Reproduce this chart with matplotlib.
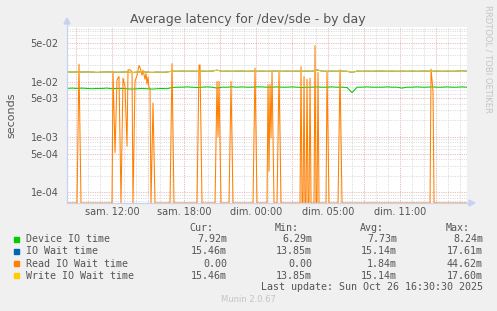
import numpy as np
import matplotlib
matplotlib.use("Agg")
import matplotlib.pyplot as plt
from matplotlib.ticker import FixedLocator, NullFormatter
from matplotlib.lines import Line2D
from matplotlib.patches import Rectangle, Polygon

# ---------------- data ----------------
title = "Average latency for /dev/sde - by day"
ylabel = "seconds"
span_hours = 33.33                      # width of the time window
xtick_hours = [3.78, 9.78, 15.78, 21.78, 27.78]
xtick_labels = ["sam. 12:00", "sam. 18:00", "dim. 00:00", "dim. 05:00", "dim. 11:00"]
ytick_values = [1e-4, 5e-4, 1e-3, 5e-3, 1e-2, 5e-2]
ytick_labels = ["1e-04", "5e-04", "1e-03", "5e-03", "1e-02", "5e-02"]

# smooth series, one value every 25 minutes (ms)
device_ms = [7.5, 7.6, 7.5, 7.6, 7.5, 7.4, 7.5, 7.5, 7.6, 7.4,
             7.5, 7.5, 7.4, 7.3, 7.4, 7.5, 7.4, 7.3, 7.4, 7.5,
             7.4, 7.8, 7.9, 7.9, 8.0, 7.9, 7.8, 7.9, 8.0, 7.9,
             7.6, 7.9, 7.9, 8.0, 7.9, 8.0, 7.9, 7.9, 8.0, 8.0,
             7.9, 7.9, 8.0, 7.9, 7.9, 8.0, 7.9, 7.8, 7.9, 7.9,
             8.0, 7.9, 7.9, 8.0, 7.9, 7.9, 7.8, 6.3, 7.9, 7.9,
             8.0, 7.9, 7.9, 7.9, 8.0, 7.9, 7.9, 7.6, 7.9, 7.9,
             8.0, 7.9, 7.9, 8.0, 7.9, 7.9, 8.0, 7.9, 7.9, 8.0, 7.9]
write_ms = [14.9, 14.8, 14.9, 14.8, 14.9, 14.8, 14.6, 14.8, 14.9, 14.8,
            14.7, 14.8, 14.9, 14.5, 14.8, 14.9, 14.8, 14.6, 14.8, 14.7,
            14.8, 15.4, 15.3, 15.4, 15.3, 15.4, 15.3, 15.4, 15.3, 15.4,
            16.0, 15.3, 15.4, 15.3, 15.4, 15.4, 15.3, 15.4, 15.3, 15.4,
            15.3, 15.4, 15.4, 15.3, 15.4, 15.3, 15.4, 15.3, 15.4, 15.3,
            16.2, 15.4, 15.3, 15.4, 15.3, 15.4, 15.3, 14.6, 15.4, 15.3,
            15.4, 15.3, 15.4, 15.4, 15.3, 15.4, 15.3, 15.4, 15.3, 15.4,
            15.3, 15.4, 15.4, 15.3, 15.4, 15.3, 15.4, 15.3, 15.4, 15.6, 15.4]
iowait_ms = [14.9, 14.8, 14.9, 14.8, 14.9, 14.8, 14.6, 14.8, 14.9, 14.8,
             14.7, 14.8, 14.9, 14.5, 14.8, 14.9, 14.8, 14.6, 14.8, 14.7,
             14.8, 15.4, 15.3, 15.4, 15.3, 15.4, 15.3, 15.4, 15.3, 15.4,
             16.0, 15.3, 15.4, 15.3, 15.4, 15.4, 15.3, 15.4, 15.3, 15.4,
             15.3, 15.4, 15.4, 15.3, 15.4, 15.3, 15.4, 15.3, 15.4, 15.3,
             16.2, 15.4, 15.3, 15.4, 15.3, 15.4, 15.3, 14.6, 15.4, 15.3,
             15.4, 15.3, 15.4, 15.4, 15.3, 15.4, 15.3, 15.4, 15.3, 15.4,
             15.3, 15.4, 15.4, 15.3, 15.4, 15.3, 15.4, 15.3, 15.4, 15.6, 15.4]
smooth_step_min = 25

# read IO wait: 5-minute sample number and value (ms); 0 elsewhere
read_sample = [0, 10, 12, 14,
               45, 46, 48, 50, 52, 54, 56, 58, 60, 61, 63, 65, 66, 68, 70, 72,
               73, 75, 76, 78, 79, 80, 81, 82, 83, 84, 86, 88,
               103, 105, 107, 130, 132, 133, 135, 148, 150, 151, 152, 154,
               162, 164, 166, 186, 188, 190,
               200, 201, 202, 203, 204, 205, 207, 210, 212, 214,
               233, 234, 235, 236, 237, 238, 239, 240, 241, 242, 243, 244,
               247, 248, 249, 250, 251, 252, 259, 260, 262,
               271, 273, 275, 363, 364, 366, 367, 400]
read_ms = [0, 0, 20.5, 0,
           0, 15.1, 0.52, 10.7, 12.3, 0, 11.5, 8.1, 0.68, 16.2, 16.2, 15.1, 0, 10, 13, 19.5,
           18, 13, 16, 11, 14, 9, 12, 7.7, 7.5, 0, 4.1, 0,
           0, 21, 0, 0, 19.5, 20, 0, 0, 10, 1.0, 10, 0,
           0, 10, 0, 0, 17.4, 0,
           0, 8.7, 0.24, 8.7, 0.96, 15.1, 0, 0, 15.1, 0,
           0, 18.6, 0, 0, 12.3, 0, 0, 11, 0, 0, 11.5, 0,
           0, 44.6, 0, 0, 14.5, 0, 0, 15.1, 0,
           0, 16.2, 0, 0, 16.7, 6.6, 0, 0]
sample_min = 5

legend_names = ["Device IO time", "IO Wait time", "Read IO Wait time", "Write IO Wait time"]
legend_colors = ["#00CC00", "#0066B3", "#FF8000", "#FFCC00"]
cur_vals = ["7.92m", "15.46m", "0.00", "15.46m"]
min_vals = ["6.29m", "13.85m", "0.00", "13.85m"]
avg_vals = ["7.73m", "15.14m", "1.84m", "15.14m"]
max_vals = ["8.24m", "17.61m", "44.62m", "17.60m"]
last_update = "Last update: Sun Oct 26 16:30:30 2025"
footer = "Munin 2.0.67"
side_text = "RRDTOOL / TOBI OETIKER"

# ---------------- figure ----------------
W, H = 497, 311
fig = plt.figure(figsize=(W / 100, H / 100), dpi=100, facecolor="#F0F0F0")

def fx(px):
    return px / W

def fy(py):
    return 1 - py / H

L, R, T, B = 67, 467, 27.3, 203
ax = fig.add_axes([fx(L), fy(B), (R - L) / W, (B - T) / H])
ax.set_facecolor("white")
ymin, ymax = 6.42e-5, 0.0951
ax.set_yscale("log")
ax.set_ylim(ymin, ymax)
ax.set_xlim(0, span_hours)

# grid
major_x = [0.78 + 3 * k for k in range(11)]
minor_x = [0.78 + k for k in range(34) if (0.78 + k) < span_hours]
ax.xaxis.set_major_locator(FixedLocator(major_x))
ax.xaxis.set_minor_locator(FixedLocator(minor_x))
ax.set_xticklabels([""] * len(major_x))
minor_y = [m * 10.0 ** e for e in (-5, -4, -3, -2) for m in range(2, 10)]
minor_y = [v for v in minor_y if ymin < v < ymax and v not in ytick_values]
ax.yaxis.set_major_locator(FixedLocator(ytick_values))
ax.yaxis.set_minor_locator(FixedLocator(minor_y))
ax.yaxis.set_minor_formatter(NullFormatter())
ax.set_yticklabels(ytick_labels)
ax.grid(which="minor", color="#D4D4D4", linestyle=(0, (1.5, 1.5)), linewidth=0.55)
ax.grid(which="major", color="#E8A4A4", linestyle=(0, (1.5, 1.5)), linewidth=0.55)
ax.tick_params(which="both", length=0, labelsize=7, labelcolor="#555555", pad=6)
for lbl in ax.get_xticklabels():
    lbl.set_visible(False)
for h, t in zip(xtick_hours, xtick_labels):
    ax.text(h, -0.05, t, transform=ax.get_xaxis_transform(), ha="center", va="center",
            fontsize=7, color="#555555")
ax.set_axisbelow(True)

for s in ("top", "right"):
    ax.spines[s].set_visible(False)
for s in ("left", "bottom"):
    ax.spines[s].set_color("#C8D0F4")
    ax.spines[s].set_linewidth(0.8)

# series
t_smooth = np.arange(len(device_ms)) * smooth_step_min / 60.0
t_read = np.array(read_sample) * sample_min / 60.0
floor = ymin
lw = 0.75
ax.plot(t_smooth, np.array(device_ms) / 1000.0, color=legend_colors[0], lw=lw)
ax.plot(t_smooth, np.array(iowait_ms) / 1000.0, color=legend_colors[1], lw=lw)
rv = np.maximum(np.array(read_ms) / 1000.0, floor)
ax.plot(t_read, rv, color=legend_colors[2], lw=lw, clip_on=True)
ax.plot(t_smooth, np.array(write_ms) / 1000.0, color=legend_colors[3], lw=lw)

# axis arrows
axc = "#C8D0F4"
fig.add_artist(Line2D([fx(L), fx(L)], [fy(B), fy(21)], color=axc, lw=0.8))
fig.add_artist(Line2D([fx(L), fx(R + 4)], [fy(B), fy(B)], color=axc, lw=0.8))
fig.add_artist(Polygon([[fx(L - 3), fy(24)], [fx(L + 3), fy(24)], [fx(L), fy(18)]],
                       closed=True, color=axc))
fig.add_artist(Polygon([[fx(R + 2), fy(B - 3)], [fx(R + 2), fy(B + 3)], [fx(R + 8), fy(B)]],
                       closed=True, color=axc))

# texts
fig.text(fx(248), fy(19), title, ha="center", va="center", fontsize=9, color="#555555")
fig.text(fx(11), fy(115), ylabel, ha="center", va="center", rotation=90,
         fontsize=8, color="#555555")
fig.text(fx(488), fy(5), side_text, ha="center", va="top", rotation=270,
         fontsize=6, color="#C4C4C4")

mono = dict(family="DejaVu Sans Mono", fontsize=7.2, color="#555555", va="center")
hy = 227.7
fig.text(fx(213), fy(hy), "Cur:", ha="right", **mono)
fig.text(fx(299), fy(hy), "Min:", ha="right", **mono)
fig.text(fx(384), fy(hy), "Avg:", ha="right", **mono)
fig.text(fx(470), fy(hy), "Max:", ha="right", **mono)
rows_y = [239.5, 251.5, 263.7, 275.7]
for i, y in enumerate(rows_y):
    fig.add_artist(Rectangle((fx(14), fy(y + 2.5)), 5 / W, 5 / H, color=legend_colors[i]))
    fig.text(fx(26), fy(y), legend_names[i], ha="left", **mono)
    fig.text(fx(227), fy(y), cur_vals[i], ha="right", **mono)
    fig.text(fx(312), fy(y), min_vals[i], ha="right", **mono)
    fig.text(fx(397), fy(y), avg_vals[i], ha="right", **mono)
    fig.text(fx(483), fy(y), max_vals[i], ha="right", **mono)
fig.text(fx(483), fy(287.5), last_update, ha="right", **mono)
fig.text(fx(248), fy(300), footer, ha="center", va="center", fontsize=6, color="#C4C4C4")

fig.savefig("out.png", dpi=100, facecolor=fig.get_facecolor())
